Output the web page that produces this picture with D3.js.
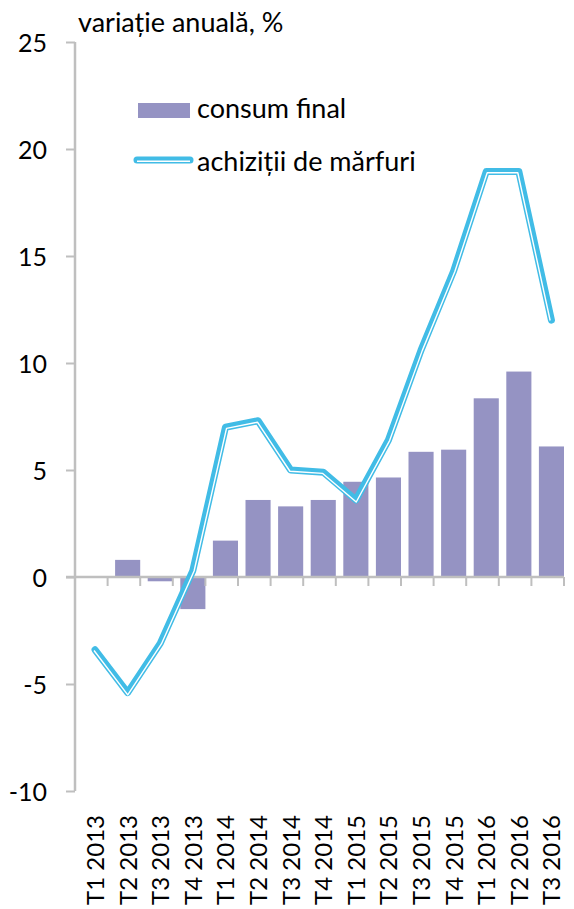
<!DOCTYPE html>
<html>
<head>
<meta charset="utf-8">
<script src="https://cdn.jsdelivr.net/npm/d3@7"></script>
<style>
  body { margin: 0; background: #fff; }
  text { font-family: Lato, "Open Sans", sans-serif; fill: #000; }
</style>
</head>
<body>
<div id="chart"></div>
<script>
// data
var quarters = ["T1 2013", "T2 2013", "T3 2013", "T4 2013", "T1 2014", "T2 2014", "T3 2014", "T4 2014",
  "T1 2015", "T2 2015", "T3 2015", "T4 2015", "T1 2016", "T2 2016", "T3 2016"];
var consumFinal = [0, 0.8, -0.2, -1.5, 1.7, 3.6, 3.3, 3.6, 4.45, 4.65, 5.85, 5.95, 8.35, 9.6, 6.1];
var achizitii = [-3.4, -5.4, -3.1, 0.3, 7.0, 7.3, 5.0, 4.9, 3.6, 6.4, 10.6, 14.3, 18.95, 18.95, 12.0];
var yTicks = [-10, -5, 0, 5, 10, 15, 20, 25];

var svgWidth = 574;
var svgHeight = 909;
var margin = { top: 42, right: 3, bottom: 118, left: 75 };
var width = svgWidth - margin.left - margin.right;
var height = svgHeight - margin.top - margin.bottom;

var barColor = "#9593c3";
var lineColor = "#41bce6";
var axisColor = "#bfbfbf";

var svg = d3.select("#chart").append("svg")
  .attr("width", svgWidth)
  .attr("height", svgHeight);

var chartGroup = svg.append("g")
  .attr("transform", `translate(${margin.left}, ${margin.top})`);

var x = d3.scaleBand().domain(quarters).range([0, 496.5]).padding(0.23);
var y = d3.scaleLinear().domain([-10, 25]).range([height, 0]);

// bars
chartGroup.selectAll(".bar")
  .data(consumFinal)
  .enter()
  .append("rect")
  .attr("class", "bar")
  .attr("x", (d, i) => x(quarters[i]))
  .attr("width", x.bandwidth())
  .attr("y", d => y(Math.max(0, d)))
  .attr("height", d => Math.abs(y(d) - y(0)))
  .attr("fill", barColor);

// y axis
var yAxis = chartGroup.append("g")
  .call(d3.axisLeft(y).tickValues(yTicks).tickSize(9).tickPadding(19).tickFormat(d => String(d)));
yAxis.select(".domain").attr("stroke", axisColor).attr("stroke-width", 2.5)
  .attr("d", `M0,${y(-10)}V${y(25)}`);
yAxis.selectAll(".tick line").attr("stroke", axisColor).attr("stroke-width", 2);
yAxis.selectAll(".tick text").style("font-size", "25px").attr("dy", "0.36em");

// x axis on zero line
var step = x.step();
var xAxisG = chartGroup.append("g").attr("transform", `translate(0, ${y(0)})`);
xAxisG.append("line")
  .attr("x1", -9).attr("x2", step * quarters.length)
  .attr("stroke", axisColor).attr("stroke-width", 2.5);
xAxisG.selectAll(".xtick")
  .data(d3.range(1, quarters.length + 1))
  .enter()
  .append("line")
  .attr("x1", d => d * step).attr("x2", d => d * step)
  .attr("y1", 0).attr("y2", 9)
  .attr("stroke", axisColor).attr("stroke-width", 2);

// x labels (rotated)
chartGroup.selectAll(".xlabel")
  .data(quarters)
  .enter()
  .append("text")
  .attr("class", "xlabel")
  .attr("transform", d => `translate(${x(d) + x.bandwidth() / 2 + 9}, ${height + 24}) rotate(-90)`)
  .attr("text-anchor", "end")
  .style("font-size", "24px")
  .text(d => d);

// double (thick-thin) line helper
function offsetPoints(pts, off) {
  return pts.map(function(p, i) {
    var n = [0, 0];
    var segs = [];
    if (i > 0) segs.push([pts[i - 1], p]);
    if (i < pts.length - 1) segs.push([p, pts[i + 1]]);
    segs.forEach(function(s) {
      var dx = s[1][0] - s[0][0], dy = s[1][1] - s[0][1];
      var len = Math.sqrt(dx * dx + dy * dy);
      n[0] += -dy / len; n[1] += dx / len;
    });
    var nl = Math.sqrt(n[0] * n[0] + n[1] * n[1]);
    n = [n[0] / nl, n[1] / nl];
    // miter scaling
    var s0 = segs[0];
    var dx0 = s0[1][0] - s0[0][0], dy0 = s0[1][1] - s0[0][1];
    var l0 = Math.sqrt(dx0 * dx0 + dy0 * dy0);
    var cos = (n[0] * -dy0 + n[1] * dx0) / l0;
    var k = off / Math.max(cos, 0.3);
    return [p[0] + n[0] * k, p[1] + n[1] * k];
  });
}

function drawDouble(g, pts) {
  var line = d3.line();
  g.append("path")
    .attr("d", line(pts))
    .attr("fill", "none")
    .attr("stroke", lineColor)
    .attr("stroke-width", 7)
    .attr("stroke-linejoin", "round")
    .attr("stroke-linecap", "round");
  g.append("path")
    .attr("d", line(offsetPoints(pts, 1.3)))
    .attr("fill", "none")
    .attr("stroke", "#fff")
    .attr("stroke-width", 1.4)
    .attr("stroke-linejoin", "round");
}

var linePts = achizitii.map((d, i) => [x(quarters[i]) + x.bandwidth() / 2, y(d)]);
drawDouble(chartGroup.append("g"), linePts);

// title
svg.append("text")
  .attr("x", 78)
  .attr("y", 32)
  .style("font-size", "27px")
  .text("variație anuală, %");

// legend
var legend = svg.append("g");
legend.append("rect")
  .attr("x", 138).attr("y", 103)
  .attr("width", 52).attr("height", 15)
  .attr("fill", barColor);
legend.append("text")
  .attr("x", 197).attr("y", 118)
  .style("font-size", "27px")
  .text("consum final");
drawDouble(legend, [[137, 160], [190, 160]]);
legend.append("text")
  .attr("x", 197).attr("y", 171)
  .style("font-size", "27px")
  .text("achiziții de mărfuri");
</script>
</body>
</html>
